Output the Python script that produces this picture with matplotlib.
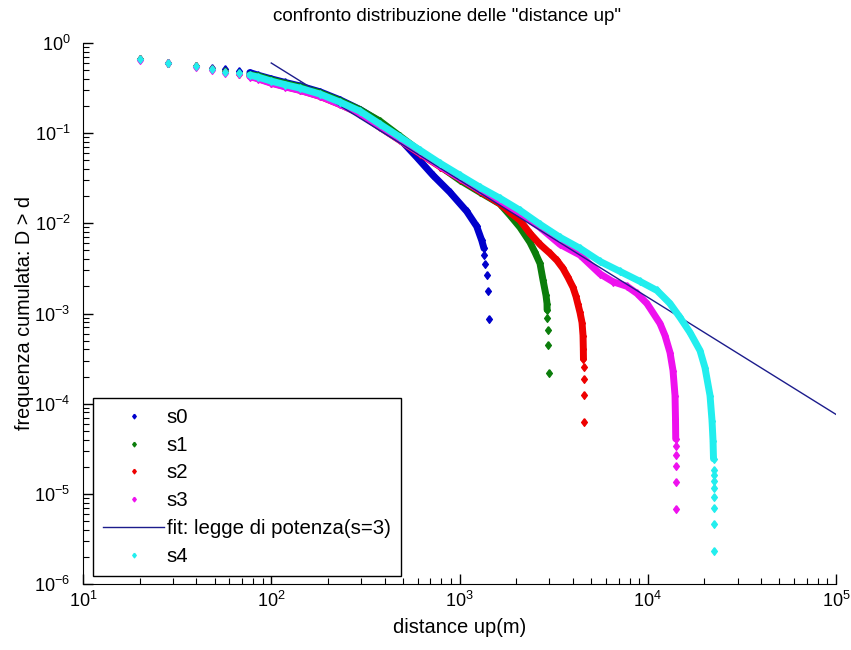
import matplotlib
matplotlib.use('Agg')
import matplotlib.pyplot as plt
from matplotlib.ticker import LogLocator, NullFormatter

plt.rcParams['font.family'] = ['Liberation Sans', 'DejaVu Sans']
plt.rcParams['axes.unicode_minus'] = False

# distanza (m) e frequenza cumulata D > d per ogni serie
s0_d = [20, 28.3, 40, 48.3, 57, 67.5, 77, 85, 100, 118, 142, 182, 232, 296, 378, 483,
        593, 723, 890, 1092, 1234, 1312, 1349, 1354, 1366, 1405, 1412, 1434]
s0_f = [0.665, 0.605, 0.556, 0.53, 0.515, 0.495, 0.47, 0.44, 0.40, 0.366, 0.334, 0.287,
        0.234, 0.183, 0.134, 0.0858, 0.0541, 0.0341, 0.0221, 0.0136, 0.00926, 0.00648,
        0.00528, 0.0044, 0.00352, 0.00264, 0.00176, 0.00088]

s1_d = [20, 28.3, 40, 48.3, 57, 67.5, 77, 85, 100, 118, 142, 182, 232, 296, 378, 483,
        617, 788, 1006, 1285, 1641, 1855, 2096, 2368, 2518, 2677, 2780, 2881, 2917, 2920,
        2925, 2940, 2954, 2990]
s1_f = [0.665, 0.605, 0.556, 0.518, 0.49, 0.465, 0.445, 0.432, 0.39, 0.357, 0.326, 0.28,
        0.229, 0.182, 0.136, 0.0926, 0.0631, 0.043, 0.030, 0.0221, 0.0164, 0.01227,
        0.00903, 0.00615, 0.00476, 0.00359, 0.002326, 0.001585, 0.00129, 0.0011,
        0.000883, 0.000662, 0.000442, 0.000221]

s2_d = [20, 28.3, 40, 48.3, 57, 67.5, 77, 85, 100, 118, 142, 182, 232, 296, 378, 483,
        617, 788, 1006, 1285, 1641, 1855, 2096, 2368, 2677, 3026, 3295, 3546, 3771, 4008,
        4158, 4261, 4367, 4475, 4531, 4547, 4555, 4560, 4570, 4580, 4600]
s2_f = [0.66, 0.60, 0.55, 0.51, 0.475, 0.455, 0.43, 0.405, 0.362, 0.33, 0.30, 0.256,
        0.208, 0.165, 0.116, 0.083, 0.059, 0.0425, 0.0313, 0.0227, 0.0165, 0.0132,
        0.0108, 0.00774, 0.00584, 0.00464, 0.00388, 0.00316, 0.00251, 0.00195, 0.001545,
        0.00126, 0.001026, 0.000794, 0.00057, 0.000408, 0.000315, 0.000252, 0.000189,
        0.000126, 0.000063]

s3_d = [20, 28.3, 40, 48.3, 57, 67.5, 77, 85, 100, 118, 142, 182, 232, 296, 378, 483,
        617, 788, 1006, 1285, 1641, 2096, 2677, 3419, 4367, 5577, 6538, 7759, 8768, 9909,
        11620, 12350, 13130, 13620, 13960, 14040, 14080, 14080, 14090, 14090, 14100, 14100]
s3_f = [0.655, 0.595, 0.545, 0.505, 0.47, 0.45, 0.425, 0.40, 0.358, 0.327, 0.298, 0.256,
        0.208, 0.165, 0.1166, 0.0836, 0.0599, 0.043, 0.0316, 0.0233, 0.0175, 0.0129,
        0.0090, 0.00584, 0.00445, 0.00275, 0.00225, 0.0020, 0.00167, 0.00129, 0.000774,
        0.00057, 0.000369, 0.000233, 0.000123, 6.81e-5, 4.08e-5, 3.4e-5, 2.72e-5,
        2.04e-5, 1.36e-5, 6.8e-6]

s4_d = [20, 28.3, 40, 48.3, 57, 67.5, 77, 85, 100, 118, 142, 182, 232, 296, 378, 483,
        617, 788, 1006, 1285, 1641, 2096, 2677, 3419, 4367, 5577, 7122, 9095, 11200, 13130,
        14840, 16770, 18950, 20140, 21420, 21950, 22220, 22350, 22400, 22420, 22440, 22450,
        22460, 22470, 22480, 22500]
s4_f = [0.664, 0.604, 0.555, 0.514, 0.48, 0.46, 0.44, 0.419, 0.378, 0.346, 0.316, 0.271,
        0.221, 0.1755, 0.1259, 0.0903, 0.0647, 0.0464, 0.0341, 0.0251, 0.01896, 0.01394,
        0.00975, 0.00699, 0.00528, 0.00378, 0.00293, 0.00227, 0.00180, 0.00129, 0.000903,
        0.000615, 0.000388, 0.000251, 0.000123, 6.47e-5, 3.88e-5, 2.45e-5, 1.86e-5,
        1.63e-5, 1.40e-5, 1.165e-5, 9.3e-6, 7.0e-6, 4.66e-6, 2.33e-6]

# retta di fit (legge di potenza)
fit_d = [100, 1e5]
fit_f = [0.6, 7.6e-5]

n_head = 6                 # prime distanze isolate
n_tail = [5, 4, 4, 5, 8]   # ultimi punti isolati di ogni serie

colors = ['#0000cc', '#0b7d0b', '#ee0000', '#ee11ee', '#22eeee']
fit_color = '#1c1c8c'
diamond = [(0, 1), (0.75, 0), (0, -1), (-0.75, 0), (0, 1)]

fig = plt.figure(figsize=(8.51, 6.5), dpi=100)
ax = fig.add_axes([83 / 851, 66 / 650, 753 / 851, 541 / 650])


def draw(d, f, color, label, tail):
    # tratto denso come banda continua, poi tutti i punti come rombi
    ax.plot(d[n_head:len(d) - tail], f[n_head:len(f) - tail], '-', color=color, lw=5,
            solid_joinstyle='round', solid_capstyle='round')
    ax.plot(d, f, linestyle='none', marker=diamond, ms=5.5, color=color, mec=color,
            label=label)


series = [(s0_d, s0_f), (s1_d, s1_f), (s2_d, s2_f), (s3_d, s3_f)]
for i, (d, f) in enumerate(series):
    draw(d, f, colors[i], 's%d' % i, n_tail[i])
ax.plot(fit_d, fit_f, '-', color=fit_color, lw=1, label='fit: legge di potenza(s=3)')
draw(s4_d, s4_f, colors[4], 's4', n_tail[4])

ax.set_xscale('log')
ax.set_yscale('log')
ax.set_xlim(10, 1e5)
ax.set_ylim(1e-6, 1)
ax.xaxis.set_major_locator(LogLocator(base=10, numticks=10))
ax.yaxis.set_major_locator(LogLocator(base=10, numticks=10))
ax.xaxis.set_minor_locator(LogLocator(base=10, subs=range(2, 10), numticks=20))
ax.yaxis.set_minor_locator(LogLocator(base=10, subs=range(2, 10), numticks=20))
ax.xaxis.set_minor_formatter(NullFormatter())
ax.yaxis.set_minor_formatter(NullFormatter())

for side in ['top', 'right']:
    ax.spines[side].set_visible(False)
ax.tick_params(which='both', direction='in', labelsize=13)
ax.tick_params(which='major', length=7, width=1)
ax.tick_params(axis='x', which='major', pad=5)
ax.tick_params(axis='y', which='major', pad=9)
ax.tick_params(which='minor', length=4, width=0.8)

ax.set_title('confronto distribuzione delle "distance up"', fontsize=13.6, pad=16, x=0.484)
ax.set_xlabel('distance up(m)', fontsize=14.5, labelpad=5)
ax.set_ylabel('frequenza cumulata: D > d', fontsize=14.3, labelpad=0)

leg = ax.legend(loc='lower left', bbox_to_anchor=(0.0133, 0.0148), borderaxespad=0,
                fontsize=14.7, markerscale=0.6, handlelength=3.0, handletextpad=0.1,
                labelspacing=0.43, borderpad=0.5, fancybox=False, framealpha=1,
                edgecolor='black')
leg.get_frame().set_linewidth(1)

fig.savefig('out.png', dpi=100)
